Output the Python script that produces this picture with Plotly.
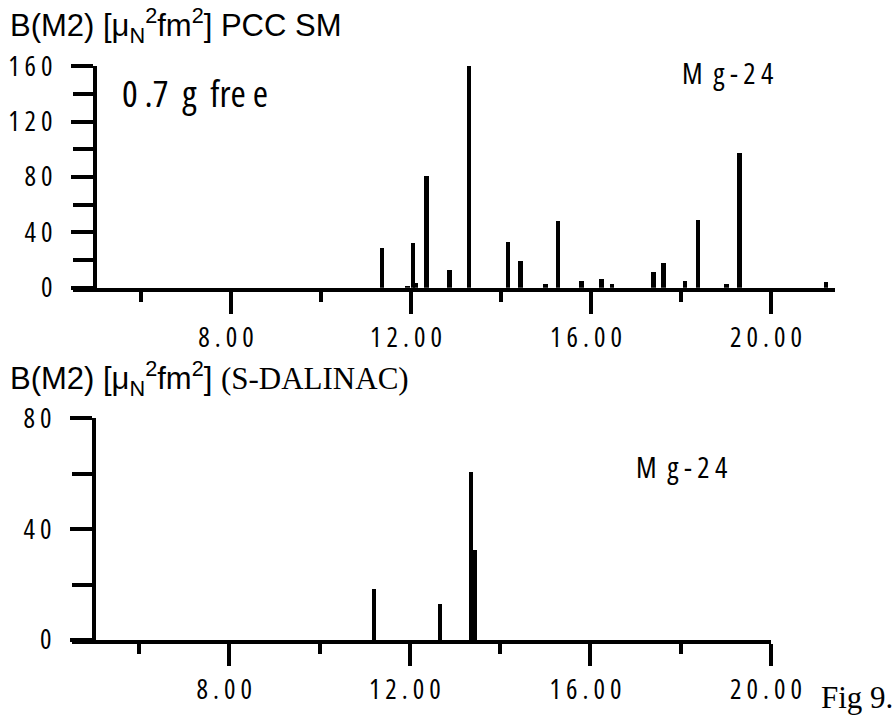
import plotly.graph_objects as go

# M2 strength distribution in 24Mg: shell-model calculation (top) and experiment (bottom)
calc_energy = [11.36, 11.92, 12.04, 12.10, 12.34, 12.85, 13.29, 14.15, 14.43, 14.99,
               15.27, 15.79, 16.23, 16.47, 17.39, 17.61, 18.09, 18.38, 19.01, 19.30, 21.22]
calc_b = [28.9, 1.5, 32.0, 3.0, 80.9, 12.5, 163.6, 33.2, 19.5, 2.9,
          48.1, 4.6, 6.5, 2.9, 11.0, 17.5, 4.8, 48.6, 2.4, 97.5, 3.8]

exp_energy = [11.19, 12.67, 13.35, 13.44]
exp_b = [18.3, 12.9, 60.6, 32.4]

x_ticks = [8, 12, 16, 20]
x_ticktext = ["8 . 0 0", "1 2 . 0 0", "1 6 . 0 0", "2 0 . 0 0"]
y_ticks_top = [0, 40, 80, 120, 160]
y_ticktext_top = ["0", "4 0", "8 0", "1 2 0", "1 6 0"]
y_ticks_bot = [0, 40, 80]
y_ticktext_bot = ["0", "4 0", "8 0"]

W, H = 894, 717
SANS = "Liberation Sans, Arial, sans-serif"
SERIF = "Liberation Serif, Times New Roman, serif"
COND = "Open Sans"
NB = "\u00a0"


def px_x(p):
    return p / W


def px_y(p):
    return 1 - p / H


def condensed(text):
    return f"<span style='font-stretch:75%'>{text}</span>"


fig = go.Figure()
fig.add_trace(go.Bar(x=calc_energy, y=calc_b, width=0.1, marker=dict(color="black", line=dict(width=0)),
                     xaxis="x", yaxis="y", cliponaxis=False, showlegend=False))
fig.add_trace(go.Bar(x=exp_energy, y=exp_b, width=0.09, marker=dict(color="black", line=dict(width=0)),
                     xaxis="x2", yaxis="y2", cliponaxis=False, showlegend=False))

tickfont = dict(family=COND, size=27, color="black")
x_labels = [condensed(t + NB + NB) for t in x_ticktext]

common_x = dict(showline=True, linewidth=4, linecolor="black", ticks="outside", ticklen=22,
                tickwidth=4, tickcolor="black", tickvals=x_ticks, ticktext=x_labels,
                showgrid=False, zeroline=False, ticklabelstandoff=1, automargin=False,
                tickfont=tickfont,
                minor=dict(ticks="outside", tick0=6, dtick=4, ticklen=10, tickwidth=4,
                           tickcolor="black", showgrid=False),
                fixedrange=True)
common_y = dict(showline=True, linewidth=4, linecolor="black", ticks="outside", ticklen=22,
                tickwidth=4, tickcolor="black", showgrid=False, zeroline=False,
                ticklabelstandoff=13, anchor="free", automargin=False, tickfont=tickfont,
                minor=dict(ticks="outside", tick0=0, dtick=20, ticklen=20, tickwidth=4,
                           tickcolor="black", showgrid=False),
                fixedrange=True)

fig.update_layout(
    template="none",
    width=W, height=H,
    margin=dict(l=0, r=0, t=0, b=0, autoexpand=False),
    paper_bgcolor="white", plot_bgcolor="white",
    bargap=0,
    xaxis=dict(common_x, domain=[px_x(73), px_x(835)], range=[4.489, 21.42], anchor="y"),
    yaxis=dict(common_y, domain=[px_y(287.7), px_y(66.1)], range=[0, 160],
               position=px_x(95), tickvals=y_ticks_top,
               ticktext=[condensed(t) for t in y_ticktext_top]),
    xaxis2=dict(common_x, domain=[px_x(71.7), px_x(771)], range=[4.509, 20.0], anchor="y2"),
    yaxis2=dict(common_y, domain=[px_y(640), px_y(418.3)], range=[0, 80],
                position=px_x(94), tickvals=y_ticks_bot,
                ticktext=[condensed(t) for t in y_ticktext_bot]),
)

annotations = [
    dict(text="B(M2) [μ<sub>N</sub><sup>2</sup>fm<sup>2</sup>] PCC SM",
         x=px_x(8), y=px_y(25), xanchor="left", yanchor="middle",
         font=dict(family=SANS, size=31, color="black")),
    dict(text=condensed(f"0 .7{NB}{NB}g{NB}{NB}fre e"),
         x=px_x(120), y=px_y(92), xanchor="left", yanchor="middle",
         font=dict(family=COND, size=37, color="black")),
    dict(text=condensed(f"M{NB}{NB}g - 2 4"),
         x=px_x(680), y=px_y(72), xanchor="left", yanchor="middle",
         font=dict(family=COND, size=29, color="black")),
    dict(text="B(M2) [μ<sub>N</sub><sup>2</sup>fm<sup>2</sup>] "
              f"<span style='font-family:{SERIF}'>(S-DALINAC)</span>",
         x=px_x(8), y=px_y(378), xanchor="left", yanchor="middle",
         font=dict(family=SANS, size=31, color="black")),
    dict(text=condensed(f"M{NB}{NB}g - 2 4"),
         x=px_x(634), y=px_y(466), xanchor="left", yanchor="middle",
         font=dict(family=COND, size=29, color="black")),
    dict(text="Fig 9.",
         x=px_x(819), y=px_y(697), xanchor="left", yanchor="middle",
         font=dict(family=SERIF, size=31, color="black")),
]
for a in annotations:
    a.update(xref="paper", yref="paper", showarrow=False)
fig.update_layout(annotations=annotations)

fig.write_html("out.html")
